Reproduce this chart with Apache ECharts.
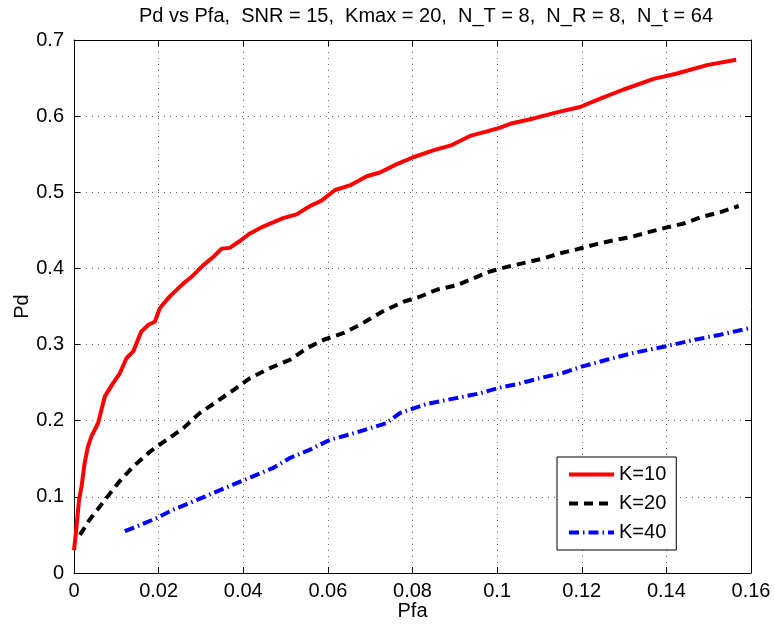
<!DOCTYPE html>
<html>
<head>
<meta charset="utf-8">
<script src="https://cdn.jsdelivr.net/npm/echarts@6/dist/echarts.min.js"></script>
<style>
html, body { margin: 0; padding: 0; background: #fff; }
#myEchart { width: 775px; height: 628px; }
</style>
</head>
<body>
<div id="myEchart"></div>
<script>
// K=10 曲线
var pfa10 = [0, 0.0003, 0.0006, 0.0012, 0.0018, 0.0025, 0.0033, 0.0041, 0.0057, 0.0073, 0.0092, 0.0108, 0.0124, 0.014, 0.0159, 0.0176, 0.0191, 0.0203, 0.0226, 0.0258, 0.0278, 0.0305, 0.0329, 0.0349, 0.0368, 0.0392, 0.0416, 0.0447, 0.0494, 0.0526, 0.0558, 0.0585, 0.0617, 0.0652, 0.0692, 0.0723, 0.0763, 0.0802, 0.0849, 0.0893, 0.0936, 0.0976, 0.1007, 0.1031, 0.1086, 0.1141, 0.1196, 0.1244, 0.1299, 0.137, 0.1425, 0.1496, 0.1565]
var pd10 = [0.03, 0.045, 0.061, 0.096, 0.114, 0.144, 0.166, 0.179, 0.197, 0.232, 0.249, 0.262, 0.282, 0.291, 0.317, 0.326, 0.33, 0.348, 0.363, 0.38, 0.389, 0.404, 0.415, 0.426, 0.427, 0.436, 0.446, 0.455, 0.466, 0.471, 0.482, 0.489, 0.503, 0.509, 0.521, 0.526, 0.537, 0.546, 0.555, 0.562, 0.574, 0.58, 0.585, 0.59, 0.597, 0.605, 0.612, 0.623, 0.635, 0.649, 0.656, 0.667, 0.674]
// K=20 曲线
var pfa20 = [0.0014, 0.0037, 0.0073, 0.0104, 0.014, 0.0179, 0.0219, 0.0258, 0.0297, 0.0337, 0.0376, 0.0416, 0.0463, 0.051, 0.055, 0.0589, 0.0636, 0.0676, 0.0731, 0.0778, 0.0818, 0.0857, 0.0905, 0.0944, 0.0983, 0.1023, 0.1062, 0.1109, 0.1149, 0.1188, 0.1228, 0.1275, 0.1314, 0.1354, 0.1402, 0.1441, 0.148, 0.1528, 0.1571]
var pd20 = [0.05, 0.07, 0.096, 0.118, 0.14, 0.159, 0.175, 0.19, 0.21, 0.225, 0.24, 0.256, 0.269, 0.28, 0.295, 0.306, 0.315, 0.326, 0.344, 0.356, 0.363, 0.372, 0.378, 0.387, 0.396, 0.402, 0.407, 0.413, 0.42, 0.425, 0.431, 0.437, 0.441, 0.447, 0.454, 0.459, 0.467, 0.474, 0.482]
// K=40 曲线
var pfa40 = [0.012, 0.0148, 0.0195, 0.0234, 0.0282, 0.0329, 0.0376, 0.0423, 0.0471, 0.051, 0.0558, 0.0605, 0.0652, 0.0699, 0.0739, 0.077, 0.0834, 0.0897, 0.096, 0.1003, 0.1054, 0.1102, 0.1157, 0.12, 0.1259, 0.1322, 0.1401, 0.1464, 0.1528, 0.16]
var pd40 = [0.055, 0.061, 0.072, 0.083, 0.094, 0.105, 0.116, 0.127, 0.138, 0.151, 0.162, 0.175, 0.182, 0.19, 0.197, 0.21, 0.222, 0.229, 0.236, 0.243, 0.249, 0.256, 0.263, 0.271, 0.28, 0.289, 0.298, 0.306, 0.313, 0.322]

var seriesNames = ['K=10', 'K=20', 'K=40']
var titleText = 'Pd vs Pfa,  SNR = 15,  Kmax = 20,  N_T = 8,  N_R = 8,  N_t = 64'

function zip (xs, ys) {
  return xs.map(function (x, i) { return [x, ys[i]] })
}

var font = 'Liberation Sans, Arial, Helvetica, sans-serif'
var gridLine = { show: true, lineStyle: { color: '#666', type: [1, 5], width: 1 } }
var tick = { show: true, inside: true, length: 6, lineStyle: { color: '#000' } }
var axisLine = { show: true, onZero: false, lineStyle: { color: '#000', width: 1 } }
var tickLabel = { color: '#000', fontSize: 20, fontFamily: font }

var chart = echarts.init(document.getElementById('myEchart'))
chart.setOption({
  animation: false,
  backgroundColor: '#fff',
  title: {
    text: titleText,
    left: 421,
    top: 1,
    textAlign: 'center',
    textStyle: { color: '#000', fontSize: 20, fontWeight: 'normal', fontFamily: font }
  },
  grid: { left: 74, right: 24, top: 40, bottom: 55 },
  legend: {
    orient: 'vertical',
    left: 557,
    top: 457,
    padding: [7, 10, 7, 10],
    itemGap: 8,
    itemWidth: 45,
    itemHeight: 14,
    backgroundColor: '#fff',
    borderColor: '#000',
    borderWidth: 1,
    borderRadius: 0,
    itemStyle: { opacity: 0 },
    lineStyle: { width: 4 },
    textStyle: { color: '#000', fontSize: 20, lineHeight: 21, fontFamily: font },
    data: seriesNames
  },
  xAxis: [{
    type: 'value',
    min: 0,
    max: 0.16,
    interval: 0.02,
    name: 'Pfa',
    nameLocation: 'middle',
    nameGap: 28,
    nameMoveOverlap: false,
    nameTextStyle: { color: '#000', fontSize: 20, fontFamily: font },
    axisLine: axisLine,
    axisTick: tick,
    axisLabel: Object.assign({ margin: 8 }, tickLabel),
    splitLine: gridLine
  }, {
    type: 'value',
    position: 'top',
    min: 0,
    max: 0.16,
    interval: 0.02,
    axisLine: axisLine,
    axisTick: tick,
    axisLabel: { show: false },
    splitLine: { show: false }
  }],
  yAxis: [{
    type: 'value',
    min: 0,
    max: 0.7,
    interval: 0.1,
    name: 'Pd',
    nameLocation: 'middle',
    nameGap: 42,
    nameMoveOverlap: false,
    nameTextStyle: { color: '#000', fontSize: 20, fontFamily: font },
    axisLine: axisLine,
    axisTick: tick,
    axisLabel: Object.assign({ margin: 10 }, tickLabel),
    splitLine: gridLine
  }, {
    type: 'value',
    position: 'right',
    min: 0,
    max: 0.7,
    interval: 0.1,
    axisLine: axisLine,
    axisTick: tick,
    axisLabel: { show: false },
    splitLine: { show: false }
  }],
  series: [{
    name: seriesNames[0],
    type: 'line',
    symbol: 'none',
    data: zip(pfa10, pd10),
    lineStyle: { color: '#ff0000', width: 4, type: 'solid' },
    itemStyle: { color: '#ff0000' }
  }, {
    name: seriesNames[1],
    type: 'line',
    symbol: 'none',
    data: zip(pfa20, pd20),
    lineStyle: { color: '#000', width: 4, type: [9, 6] },
    itemStyle: { color: '#000' }
  }, {
    name: seriesNames[2],
    type: 'line',
    symbol: 'none',
    data: zip(pfa40, pd40),
    lineStyle: { color: '#0000ff', width: 4, type: [10, 4, 1.5, 4] },
    itemStyle: { color: '#0000ff' }
  }]
})
</script>
</body>
</html>
